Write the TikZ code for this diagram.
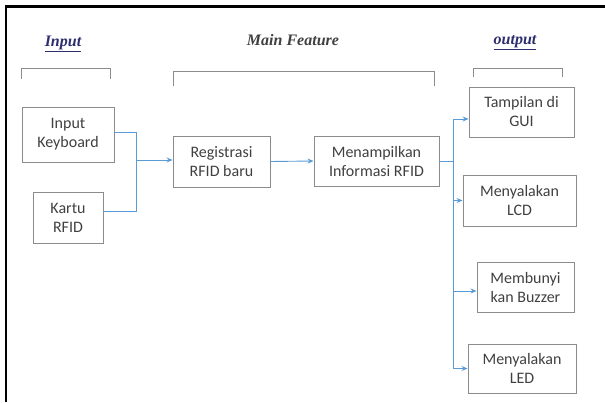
\documentclass[tikz,border=0pt]{standalone}
\usepackage{fontspec}
\setmainfont{Carlito}
\newfontfamily\judulfont{Liberation Serif}
\usetikzlibrary{arrows.meta}
\definecolor{abukotak}{HTML}{8C8C8C}
\definecolor{abuteks}{HTML}{404040}
\definecolor{birugaris}{HTML}{5B9BD5}
\definecolor{birutua}{HTML}{2E2E6E}
\tikzset{
  kotak/.style={draw=abukotak, line width=0.9pt, text=abuteks, align=center,
    inner sep=0pt, font=\fontsize{16}{19}\selectfont},
  garis/.style={draw=birugaris, line width=0.9pt},
  panah/.style={garis, -{Stealth[length=6pt,width=5pt]}},
  kurung/.style={draw=abukotak, line width=0.9pt},
  judul/.style={font=\judulfont\bfseries\itshape\fontsize{16}{19}\selectfont}
}
\begin{document}
\begin{tikzpicture}[x=1pt,y=-1pt]
    \useasboundingbox (0,0) rectangle (605,402);
    % bingkai
    \draw[line width=2.5pt] (6,402) -- (6,6.5) -- (605,6.5);

    % judul dan kurung
    \node[judul, text=birutua] (jInput) at (63,44) {\underline{Input}};
    \node[judul, text=abuteks] (jMain) at (293,40) {Main Feature};
    \node[judul, text=birutua] (jOutput) at (515,43) {\underline{output}};
    \draw[kurung] (21,79) -- (21,68) -- (110,68) -- (110,79);
    \draw[kurung] (173,86) -- (173,71) -- (434,71) -- (434,86);
    \draw[kurung] (473,77) -- (473,68) -- (562,68) -- (562,77);

    % input
    \node[kotak, minimum width=92pt, minimum height=55pt] (kbd) at (68,134.5) {Input\\Keyboard};
    \node[kotak, minimum width=70pt, minimum height=51pt] (kartu) at (68,217.5) {Kartu\\RFID};

    % main feature
    \node[kotak, minimum width=97pt, minimum height=51pt] (reg) at (221.5,161.5) {Registrasi\\RFID baru};
    \node[kotak, minimum width=125pt, minimum height=50pt] (info) at (376.5,161) {Menampilkan\\Informasi RFID};

    % output
    \node[kotak, minimum width=105pt, minimum height=50pt] (gui) at (521.5,112) {Tampilan di\\GUI};
    \node[kotak, minimum width=113pt, minimum height=51pt] (lcd) at (519.5,200.5) {Menyalakan\\LCD};
    \node[kotak, minimum width=97pt, minimum height=50pt] (buz) at (525.5,287) {Membunyi\\kan Buzzer};
    \node[kotak, minimum width=108pt, minimum height=49pt] (led) at (522,368.5) {Menyalakan\\LED};

    % garis
    \coordinate (gabung) at (136,160);
    \coordinate (cabang) at (453,161);
    \draw[garis] ([yshift=2pt]kbd.east) -| (gabung);
    \draw[garis] ([yshift=6pt]kartu.east) -| (gabung);
    \draw[panah] (gabung) -- (gabung -| reg.west);
    \draw[panah] (reg.east) -- (info.west);
    \draw[garis] (info.east) -- (cabang);
    \draw[panah] (cabang) |- ([yshift=-7pt]gui.west);
    \draw[panah] (cabang) |- (lcd.west);
    \draw[panah] (cabang) |- ([yshift=-4pt]buz.west);
    \draw[panah] (cabang) |- (led.west);
\end{tikzpicture}
\end{document}
